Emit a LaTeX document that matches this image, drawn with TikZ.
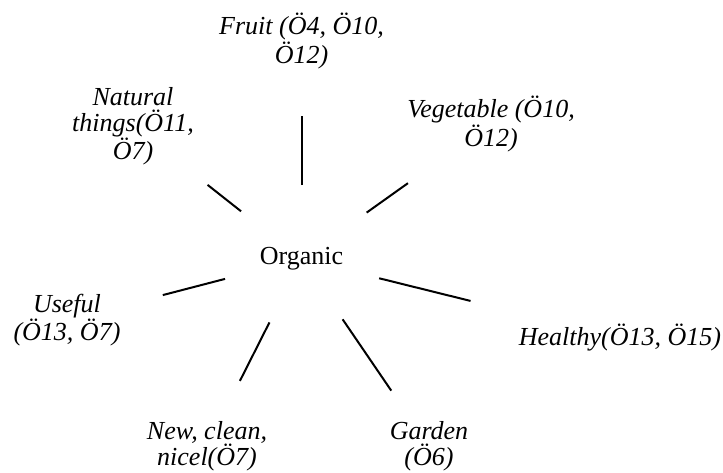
\documentclass[tikz,border=0pt]{standalone}
\usepackage{fontspec}
\setmainfont{Liberation Serif}
\usetikzlibrary{calc}

\begin{document}
\begin{tikzpicture}[x=1pt, y=-1pt,
    lbl/.style={font=\fontsize{26}{26}\selectfont\itshape, align=center, inner sep=0pt},
    spoke/.style={line width=2pt}]
    \useasboundingbox (0,0) rectangle (723,472);

    \node[lbl, font=\fontsize{26}{26}\selectfont] (org) at (301.5,259) {Organic};

    \node[lbl] (fruit) at (301.5,41) {Fruit (Ö4, Ö10,\\Ö12)};
    \node[lbl] (veg) at (491,124) {Vegetable (Ö10,\\Ö12)};
    \node[lbl] (nat) at (133,126) {Natural\\things(Ö11,\\Ö7)};
    \node[lbl] (use) at (67,320) {Useful\\(Ö13, Ö7)};
    \node[lbl] (hea) at (620,338) {Healthy(Ö13, Ö15)};
    \node[lbl] (new) at (207,446) {New, clean,\\nicel(Ö7)};
    \node[lbl] (gar) at (429,446) {Garden\\(Ö6)};

    \foreach \n/\a/\b in {fruit/74/75, nat/77/95, veg/80/102, use/79/99,
                          hea/80/154, new/71/73, gar/73/67}
    \draw[spoke, shorten <=\a pt, shorten >=\b pt] (org.center) -- (\n.center);
\end{tikzpicture}
\end{document}
